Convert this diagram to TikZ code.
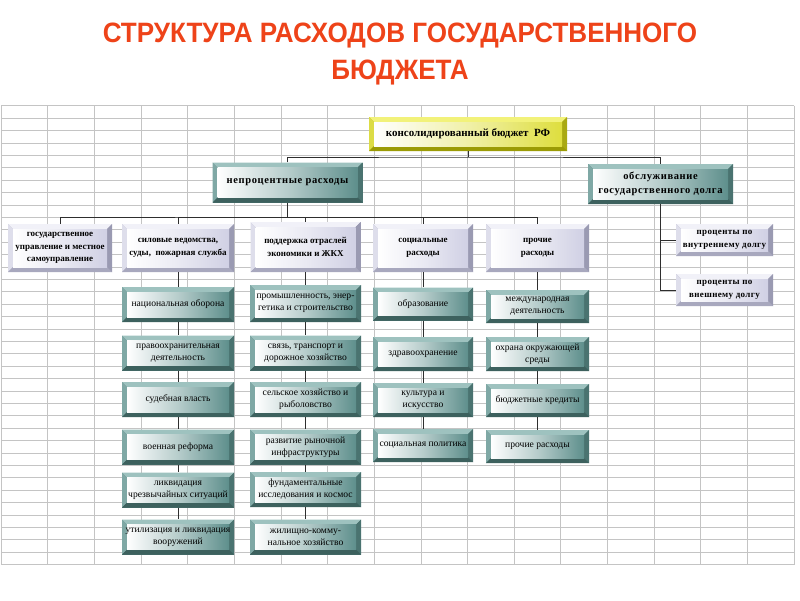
\documentclass[tikz,border=0pt]{standalone}
\usepackage{fontspec}
\setmainfont{Liberation Serif}
\newfontfamily\headfont[FakeStretch=0.93]{Liberation Sans}
\usetikzlibrary{positioning,calc}
\definecolor{gridln}{HTML}{C4C4C4}
\definecolor{heading}{HTML}{EE4319}
\definecolor{wire}{HTML}{2E2E2E}
\definecolor{tlA}{HTML}{9EC2BF}
\definecolor{tlB}{HTML}{7FA8A5}
\definecolor{tlC}{HTML}{4A7370}
\definecolor{tlD}{HTML}{3D615E}
\definecolor{tlE}{HTML}{5E8F8C}
\definecolor{lvA}{HTML}{F1F1F8}
\definecolor{lvB}{HTML}{DEDEEB}
\definecolor{lvC}{HTML}{9A9AB2}
\definecolor{lvD}{HTML}{A8A8BE}
\definecolor{lvE}{HTML}{D0D0E4}
\definecolor{ylA}{HTML}{F2F27A}
\definecolor{ylB}{HTML}{DCDC45}
\definecolor{ylC}{HTML}{A9A912}
\definecolor{ylD}{HTML}{9B9B05}
\definecolor{ylE}{HTML}{DEDE3E}

\begin{document}
\begin{tikzpicture}[x=1pt,y=-1pt,
  panel/.style={inner sep=0pt,align=center,fill=#1C,
    path picture={
      \path (path picture bounding box.north west) coordinate (q1)
            (path picture bounding box.north east) coordinate (q2)
            (path picture bounding box.south east) coordinate (q3)
            (path picture bounding box.south west) coordinate (q4);
      \fill[#1A] (q1)--(q2)--([xshift=-5pt,yshift=-5pt]q2)--([xshift=5pt,yshift=-5pt]q1)--cycle;
      \fill[#1B] (q1)--([xshift=5pt,yshift=-5pt]q1)--([xshift=5pt,yshift=5pt]q4)--(q4)--cycle;
      \fill[#1C] (q2)--(q3)--([xshift=-5pt,yshift=5pt]q3)--([xshift=-5pt,yshift=-5pt]q2)--cycle;
      \fill[#1D] (q4)--(q3)--([xshift=-5pt,yshift=5pt]q3)--([xshift=5pt,yshift=5pt]q4)--cycle;
      \shade[left color=white,right color=#1E,middle color=white!55!#1E]
        ([xshift=5pt,yshift=-5pt]q1) rectangle ([xshift=-5pt,yshift=5pt]q3);
    }},
  topbox/.style={panel=yl,minimum width=198pt,minimum height=34pt,
    font=\bfseries\fontsize{11}{13}\selectfont},
  mainbox/.style={panel=tl,minimum width=150pt,minimum height=40pt,
    font=\bfseries\addfontfeature{LetterSpace=6}\fontsize{10.5}{14}\selectfont},
  catbox/.style={panel=lv,minimum height=48pt,
    font=\bfseries\fontsize{9}{12.5}\selectfont},
  leaf/.style={panel=tl,minimum height=35pt,
    font=\fontsize{9.6}{12}\selectfont},
  wire/.style={draw=wire,line width=0.8pt}]

\fill[white] (0,0) rectangle (800,600);
\useasboundingbox (0,0) rectangle (800,600);
\foreach \r in {0,...,37} \draw[gridln,line width=0.7pt] (1,105.7+12.4*\r) -- (794,105.7+12.4*\r);
\foreach \c in {0,...,17} \draw[gridln,line width=0.7pt] (1+46.65*\c,105.7) -- (1+46.65*\c,564.5);

\node[heading,align=center,font=\headfont\bfseries\fontsize{28}{37}\selectfont] (title) at (400,54)
  {СТРУКТУРА РАСХОДОВ ГОСУДАРСТВЕННОГО\\БЮДЖЕТА};

\node[topbox] (cons) at (468,134) {консолидированный бюджет~~РФ};
\node[mainbox] (nonint) at (287.5,182.5) {непроцентные расходы};
\node[mainbox,minimum width=145pt] (debt) at (660.5,184) {обслуживание\\государственного долга};

\node[catbox,minimum width=104pt] (gov) at (60,248) {государственное\\управление и местное\\самоуправление};
\node[catbox,minimum width=112pt] (force) at (178,248) {силовые ведомства,\\суды,~ пожарная служба};
\node[catbox,minimum width=110pt,minimum height=50pt] (econ) at (305.5,247) {поддержка отраслей\\экономики и ЖКХ};
\node[catbox,minimum width=100pt] (social) at (423,248) {социальные\\расходы};
\node[catbox,minimum width=103pt] (other) at (537.5,248) {прочие\\расходы};
\node[catbox,minimum width=97pt,minimum height=32pt,font=\bfseries\addfontfeature{LetterSpace=4}\fontsize{9}{13}\selectfont] (din) at (724.5,240) {проценты по\\внутреннему долгу};
\node[catbox,minimum width=97pt,minimum height=32pt,font=\bfseries\addfontfeature{LetterSpace=4}\fontsize{9}{13}\selectfont] (dex) at (724.5,290) {проценты по\\внешнему долгу};

\node[leaf,minimum width=112pt] (f1) at (178,304.5) {национальная оборона};
\node[leaf,minimum width=112pt] (f2) at (178,353) {правоохранительная\\деятельность};
\node[leaf,minimum width=112pt] (f3) at (178,399.5) {судебная власть};
\node[leaf,minimum width=112pt] (f4) at (178,447) {военная реформа};
\node[leaf,minimum width=112pt] (f5) at (178,490) {ликвидация\\чрезвычайных ситуаций};
\node[leaf,minimum width=112pt] (f6) at (178,537) {утилизация и ликвидация\\вооружений};

\node[leaf,minimum width=111pt,minimum height=37pt] (e1) at (305.5,303.5) {промышленность, энер-\\гетика и строительство};
\node[leaf,minimum width=111pt] (e2) at (305.5,353) {связь, транспорт и\\дорожное хозяйство};
\node[leaf,minimum width=111pt] (e3) at (305.5,399.5) {сельское хозяйство и\\рыболовство};
\node[leaf,minimum width=111pt] (e4) at (305.5,447) {развитие рыночной\\инфраструктуры};
\node[leaf,minimum width=111pt] (e5) at (305.5,489.5) {фундаментальные\\исследования и космос};
\node[leaf,minimum width=111pt] (e6) at (305.5,537) {жилищно-комму-\\нальное хозяйство};

\node[leaf,minimum width=100pt,minimum height=33pt] (s1) at (423,304) {образование};
\node[leaf,minimum width=100pt,minimum height=34pt] (s2) at (423,354) {здравоохранение};
\node[leaf,minimum width=100pt,minimum height=34pt] (s3) at (423,400) {культура и\\искусство};
\node[leaf,minimum width=100pt,minimum height=33pt] (s4) at (423,445.5) {социальная политика};

\node[leaf,minimum width=103pt,minimum height=33pt] (o1) at (537.5,306.5) {международная\\деятельность};
\node[leaf,minimum width=103pt,minimum height=34pt] (o2) at (537.5,354) {охрана окружающей\\среды};
\node[leaf,minimum width=103pt,minimum height=33pt] (o3) at (537.5,400.5) {бюджетные кредиты};
\node[leaf,minimum width=103pt,minimum height=33pt] (o4) at (537.5,446.5) {прочие расходы};

\coordinate (busA) at (468,157);
\coordinate (busB) at (287.5,217);
\draw[wire] (cons) -- (busA);
\draw[wire] (nonint.north) |- (busA) -| (debt.north);
\draw[wire] (nonint) -- (busB);
\draw[wire] (gov.north) |- (busB) -| (other.north);
\draw[wire] (force.north) |- (busB);
\draw[wire] (econ.north) |- (busB);
\draw[wire] (social.north) |- (busB);
\draw[wire] (debt.south) |- (dex.west);
\draw[wire] (debt.south |- din.west) -- (din.west);

\draw[wire] (force) -- (f1) -- (f2) -- (f3) -- (f4) -- (f5) -- (f6);
\draw[wire] (econ) -- (e1) -- (e2) -- (e3) -- (e4) -- (e5) -- (e6);
\draw[wire] (social) -- (s1) -- (s2) -- (s3) -- (s4);
\draw[wire] (other) -- (o1) -- (o2) -- (o3) -- (o4);
\end{tikzpicture}
\end{document}
